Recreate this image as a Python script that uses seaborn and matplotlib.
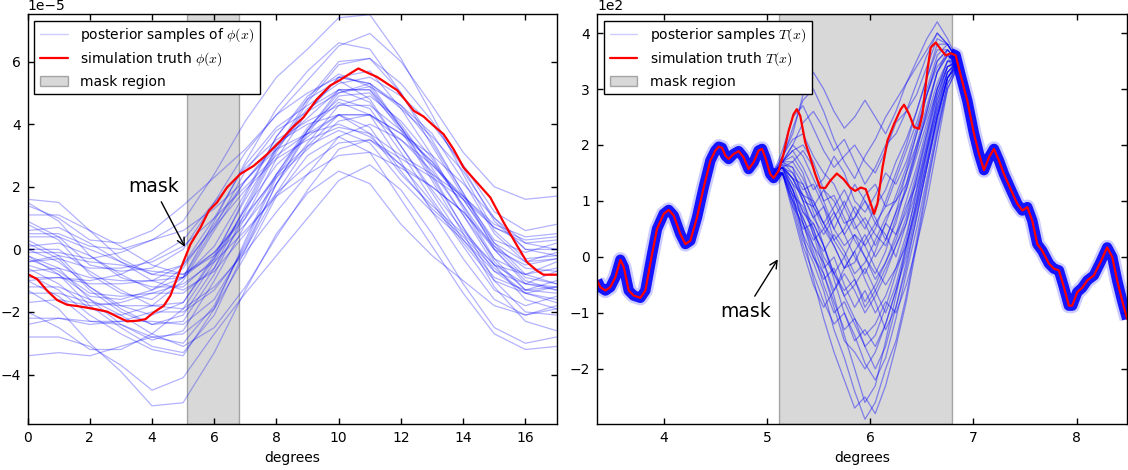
import numpy as np
import pandas as pd
import matplotlib
matplotlib.use("Agg")
import matplotlib.pyplot as plt
from matplotlib.lines import Line2D
from matplotlib.patches import Patch
import seaborn as sns

# ---------------- left panel: potential phi(x), in units of 1e-5 ----------------
phi_scale = 1e-5
phi_truth_deg = [0.0, 0.31, 0.63, 0.95, 1.27, 1.59, 2.13, 2.56, 2.88, 3.20, 3.52, 3.79,
                 4.06, 4.38, 4.59, 4.81, 5.02, 5.24, 5.56, 5.83, 6.09, 6.41, 6.84, 7.27,
                 7.70, 8.13, 8.50, 8.87, 9.30, 9.72, 10.04, 10.37, 10.63, 10.91, 11.23,
                 11.55, 11.87, 12.14, 12.41, 12.73, 13.05, 13.37, 13.69, 14.01, 14.44,
                 14.87, 15.30, 15.73, 16.05, 16.37, 16.58, 17.0]
phi_truth = [-0.79, -0.95, -1.32, -1.62, -1.77, -1.81, -1.90, -1.99, -2.15, -2.30, -2.28,
             -2.23, -2.01, -1.80, -1.48, -0.90, -0.37, 0.17, 0.70, 1.24, 1.50, 1.98, 2.41,
             2.67, 3.04, 3.47, 3.88, 4.22, 4.80, 5.23, 5.41, 5.62, 5.78, 5.65, 5.51, 5.30,
             5.09, 4.77, 4.43, 4.24, 3.95, 3.68, 3.20, 2.62, 2.14, 1.66, 0.86, 0.12, -0.41,
             -0.68, -0.81, -0.81]

phi_sample_deg = [0, 1, 2, 3, 4, 5, 6, 7, 8, 9, 10, 11, 12, 13, 14, 15, 16, 17]
phi_samples = [
    [1.4, 1.0, 0.3, 0.2, 0.6, 1.4, 2.3, 3.2, 4.3, 5.4, 6.5, 6.9, 6.0, 4.6, 3.1, 2.0, 1.6, 1.7],
    [-2.8, -2.8, -3.1, -3.7, -4.5, -4.1, -2.7, -1.4, -0.2, 1.0, 2.2, 2.7, 1.9, 0.5, -1.1, -2.5, -3.0, -2.8],
    [0.1, 0.2, -0.2, -0.8, -1.3, -0.9, 0.7, 2.5, 3.8, 4.4, 5.0, 5.2, 4.6, 3.7, 2.2, 0.5, -0.4, -0.3],
    [-1.0, -1.5, -2.3, -2.3, -2.0, -2.0, -1.3, 0.0, 1.8, 3.3, 4.3, 3.9, 2.5, 1.3, 0.4, -0.6, -1.4, -1.7],
    [0.8, 0.3, -0.8, -1.4, -1.6, -0.9, 0.9, 2.8, 4.5, 5.7, 6.6, 6.4, 5.0, 3.3, 1.7, 0.3, -0.1, 0.2],
    [-1.7, -1.6, -1.8, -1.7, -1.4, -1.1, -0.4, 0.6, 1.7, 2.4, 3.0, 3.1, 2.6, 2.0, 1.2, 0.0, -1.0, -1.3],
    [-0.4, -0.3, -0.6, -0.6, -0.4, 0.1, 1.0, 2.0, 3.0, 3.7, 4.3, 4.3, 3.7, 3.0, 2.1, 1.0, 0.2, 0.0],
    [-0.2, -0.8, -1.8, -2.5, -3.1, -3.3, -2.1, 0.0, 2.1, 3.7, 4.9, 5.0, 3.9, 2.4, 0.7, -1.0, -2.0, -2.1],
    [1.6, 1.5, 0.6, -0.3, -0.8, -0.5, 1.0, 2.7, 3.9, 4.6, 5.3, 5.5, 4.9, 4.0, 2.7, 1.2, 0.6, 0.8],
    [-3.4, -3.3, -3.4, -3.1, -2.8, -2.7, -1.9, -0.2, 1.7, 3.0, 3.6, 3.1, 1.6, 0.1, -1.4, -2.7, -3.2, -3.1],
    [0.5, 0.5, 0.1, 0.0, 0.3, 0.9, 2.4, 4.1, 5.5, 6.4, 7.4, 7.5, 6.1, 4.3, 2.4, 0.6, -0.3, -0.2],
    [-1.3, -1.9, -3.0, -3.9, -5.0, -4.9, -3.3, -1.3, 0.5, 1.8, 2.5, 2.1, 0.8, -0.2, -1.0, -1.8, -2.1, -1.8],
    [0.0, -0.4, -1.2, -1.8, -2.1, -1.7, -0.2, 1.6, 3.2, 4.4, 5.5, 5.7, 4.5, 3.0, 1.3, -0.4, -1.3, -1.2],
    [-0.7, -0.6, -0.9, -1.0, -1.0, -0.9, -0.1, 1.1, 2.3, 3.2, 4.1, 4.3, 3.7, 2.8, 1.6, 0.1, -0.9, -1.1],
    [1.1, 1.1, 0.6, 0.1, -0.5, -0.8, -0.2, 0.8, 2.1, 3.4, 4.6, 4.9, 4.1, 2.9, 1.4, 0.0, -0.5, -0.3],
    [-2.2, -2.2, -2.4, -2.3, -2.3, -2.4, -1.6, 0.1, 2.1, 3.8, 5.1, 5.1, 3.8, 2.2, 0.5, -1.2, -2.3, -2.6],
    [0.3, -0.2, -1.2, -1.9, -2.4, -2.3, -0.8, 1.2, 3.1, 4.7, 5.9, 6.1, 5.3, 4.1, 2.6, 0.9, 0.0, 0.0],
    [-0.6, -1.1, -1.9, -2.1, -1.8, -1.0, 0.6, 2.2, 3.4, 4.0, 4.3, 3.7, 2.4, 1.4, 0.5, -0.5, -1.1, -1.2],
    [0.6, 0.7, 0.2, -0.4, -1.0, -1.3, -0.7, 0.5, 1.8, 2.7, 3.4, 3.5, 2.9, 2.3, 1.6, 0.7, 0.2, 0.3],
    [-2.0, -2.5, -3.2, -3.2, -2.7, -1.9, -0.4, 1.3, 2.7, 3.6, 4.3, 4.3, 3.5, 2.5, 1.1, -0.5, -1.6, -1.9],
    [-0.1, -0.1, -0.3, -0.1, 0.3, 0.6, 1.3, 2.2, 3.3, 4.2, 5.1, 5.1, 4.0, 2.6, 1.1, -0.3, -0.8, -0.6],
    [-1.2, -1.2, -1.6, -2.1, -2.7, -3.1, -2.5, -1.2, 0.4, 1.9, 3.2, 3.5, 2.7, 1.5, 0.1, -1.3, -1.8, -1.5],
    [-0.3, -0.7, -1.4, -1.5, -1.4, -1.4, -0.6, 1.0, 2.9, 4.4, 5.5, 5.3, 3.9, 2.3, 0.7, -0.7, -1.1, -0.7],
    [-0.9, -0.9, -1.1, -1.1, -1.0, -0.5, 0.7, 1.9, 2.9, 3.5, 3.9, 3.7, 3.0, 2.4, 1.7, 0.8, 0.4, 0.5],
    [0.4, 0.4, 0.0, -0.4, -0.8, -0.9, 0.1, 1.8, 3.6, 4.9, 5.6, 5.2, 3.9, 2.7, 1.7, 0.7, 0.3, 0.4],
    [-0.8, -1.3, -2.1, -2.7, -3.2, -3.4, -1.9, 0.3, 2.4, 3.9, 4.8, 4.5, 3.1, 1.6, 0.2, -1.0, -1.4, -1.2],
    [0.9, 0.4, -0.5, -0.7, -0.6, 0.0, 1.5, 3.1, 4.3, 5.0, 5.5, 5.3, 4.5, 3.6, 2.5, 1.0, 0.0, -0.2],
    [-1.4, -1.4, -1.7, -1.8, -1.8, -1.9, -1.2, -0.1, 1.2, 2.4, 3.6, 4.0, 3.5, 2.7, 1.6, 0.2, -0.8, -1.1],
    [-0.4, -0.2, -0.4, -0.5, -0.7, -0.8, -0.1, 1.0, 2.4, 3.8, 5.0, 5.3, 4.6, 3.4, 1.8, 0.0, -1.1, -1.3],
    [0.2, -0.3, -1.3, -2.0, -2.4, -2.1, -0.6, 1.4, 3.3, 4.5, 5.1, 4.7, 3.3, 1.9, 0.6, -0.5, -0.8, -0.4],
    [-0.5, -0.8, -1.5, -1.6, -1.3, -0.6, 0.8, 2.2, 3.2, 3.7, 4.0, 3.6, 2.7, 2.0, 1.2, 0.1, -0.6, -0.7],
    [1.5, 0.9, -0.2, -0.9, -1.2, -1.2, -0.3, 1.3, 3.2, 4.8, 6.0, 6.1, 5.0, 3.5, 1.8, 0.2, -0.4, -0.1],
    [-2.4, -2.2, -2.3, -2.4, -2.8, -3.0, -1.8, 0.2, 2.3, 3.8, 4.7, 4.3, 2.8, 1.2, -0.3, -1.6, -2.1, -1.9],
    [0.0, 0.0, -0.7, -1.3, -1.8, -1.7, -0.3, 1.7, 3.6, 4.8, 5.4, 4.8, 3.3, 1.8, 0.3, -0.9, -1.3, -1.0],
    [-1.0, -0.9, -1.0, -0.8, -0.3, 0.3, 1.5, 2.6, 3.5, 4.1, 4.6, 4.6, 3.8, 2.8, 1.4, -0.3, -1.3, -1.4],
    [-0.2, -0.6, -1.6, -2.4, -2.9, -2.6, -1.0, 0.8, 2.4, 3.3, 3.8, 3.4, 2.2, 1.2, 0.3, -0.7, -1.4, -1.6],
]

# ---------------- right panel: temperature T(x), in uK ----------------
T_truth_deg = [3.354, 3.386, 3.435, 3.483, 3.532, 3.580, 3.613, 3.661, 3.709, 3.774, 3.822,
               3.887, 3.935, 4.000, 4.048, 4.097, 4.161, 4.210, 4.258, 4.323, 4.387, 4.452,
               4.500, 4.533, 4.565, 4.597, 4.629, 4.678, 4.726, 4.774, 4.823, 4.871, 4.919,
               4.952, 4.984, 5.032, 5.065, 5.113, 5.161, 5.210, 5.258, 5.290, 5.323, 5.371,
               5.419, 5.468, 5.516, 5.565, 5.613, 5.677, 5.742, 5.806, 5.855, 5.910, 5.958,
               6.006, 6.039, 6.071, 6.120, 6.168, 6.233, 6.297, 6.329, 6.378, 6.426, 6.474,
               6.507, 6.555, 6.587, 6.636, 6.684, 6.733, 6.781, 6.829, 6.878, 6.942, 7.007,
               7.055, 7.103, 7.152, 7.200, 7.249, 7.297, 7.362, 7.426, 7.475, 7.523, 7.571,
               7.620, 7.668, 7.733, 7.781, 7.829, 7.878, 7.926, 7.958, 8.007, 8.055, 8.104,
               8.168, 8.233, 8.297, 8.346, 8.394, 8.442, 8.491]
T_truth = [-42, -54, -60, -54, -36, -5, -18, -60, -69, -73, -60, 5, 50, 77, 84, 74, 41, 23,
           29, 71, 124, 172, 190, 197, 195, 181, 175, 184, 189, 178, 157, 169, 190, 193, 178,
           148, 141, 154, 184, 225, 255, 264, 252, 205, 178, 148, 124, 123, 136, 149, 139,
           124, 118, 124, 121, 95, 77, 95, 160, 208, 238, 264, 272, 255, 232, 229, 255, 333,
           374, 383, 371, 360, 364, 360, 324, 279, 220, 184, 155, 178, 193, 172, 148, 121, 95,
           83, 89, 65, 23, 11, -12, -21, -24, -54, -87, -87, -63, -55, -42, -33, -9, 17, 0,
           -42, -78, -111]

# posterior draws across the masked strip, where they depart from the truth
T_sample_deg = [5.05, 5.15, 5.25, 5.35, 5.45, 5.55, 5.65, 5.75, 5.85, 5.95,
                6.05, 6.15, 6.25, 6.35, 6.45, 6.55, 6.65, 6.75, 6.85]
T_samples = [
    [145, 190, 250, 270, 230, 190, 160, 180, 200, 170, 150, 190, 240, 260, 290, 340, 390, 380, 350],
    [145, 180, 220, 290, 330, 300, 260, 230, 250, 280, 250, 220, 260, 310, 350, 390, 420, 390, 350],
    [145, 170, 190, 160, 120, 140, 180, 150, 100, 80, 110, 150, 130, 170, 230, 290, 340, 360, 350],
    [145, 160, 140, 100, 90, 120, 100, 60, 70, 110, 130, 90, 100, 150, 200, 250, 310, 350, 340],
    [145, 160, 120, 70, 30, 50, 20, -20, 10, 40, 0, 30, 80, 120, 180, 240, 300, 340, 350],
    [145, 150, 100, 50, 60, 20, -30, -60, -40, -80, -50, -10, 30, 90, 130, 200, 270, 330, 350],
    [145, 170, 160, 130, 80, 20, -40, -100, -150, -130, -160, -120, -60, 0, 80, 160, 240, 320, 350],
    [145, 150, 90, 20, -30, -80, -120, -100, -140, -190, -220, -180, -110, -30, 50, 140, 230, 310, 340],
    [145, 160, 130, 80, 50, -10, -70, -140, -200, -260, -230, -150, -70, 20, 100, 180, 260, 330, 350],
    [145, 170, 180, 150, 90, 50, 80, 40, 0, -30, 10, 60, 40, 80, 150, 220, 290, 340, 350],
    [145, 150, 110, 90, 40, -20, 0, -50, -90, -60, -100, -70, -20, 20, 90, 170, 250, 320, 350],
    [145, 160, 170, 190, 160, 100, 50, 90, 130, 100, 60, 90, 140, 190, 240, 300, 360, 380, 350],
    [145, 150, 100, 30, -10, -60, -130, -180, -240, -290, -260, -200, -150, -70, 30, 130, 220, 300, 340],
    [145, 170, 150, 120, 130, 90, 30, 0, 40, 20, -20, -50, -20, 40, 110, 190, 280, 340, 350],
    [145, 180, 210, 220, 180, 150, 130, 90, 50, 70, 40, 20, 60, 130, 200, 270, 330, 360, 350],
    [145, 150, 120, 60, 0, -40, -20, -70, -110, -140, -120, -80, -100, -50, 20, 100, 200, 300, 340],
    [145, 160, 140, 100, 40, 10, 40, 10, -30, -10, 30, 70, 100, 130, 190, 260, 330, 360, 350],
    [145, 170, 200, 240, 260, 230, 190, 210, 170, 130, 160, 200, 220, 260, 310, 360, 400, 380, 350],
    [145, 150, 80, 10, -50, -90, -60, -30, -60, -100, -70, -30, 20, 60, 120, 190, 260, 320, 340],
    [145, 160, 130, 110, 70, 90, 50, 20, 40, 0, -40, -10, 40, 100, 160, 230, 300, 350, 350],
    [145, 160, 120, 60, 20, -30, -80, -130, -110, -160, -140, -90, -30, 30, 120, 200, 280, 330, 350],
    [145, 170, 170, 140, 100, 60, 90, 120, 80, 50, 90, 120, 170, 210, 260, 320, 370, 370, 350],
    [145, 160, 110, 40, -40, -110, -170, -220, -270, -250, -280, -230, -160, -80, 20, 120, 220, 310, 345],
    [145, 170, 190, 200, 170, 120, 80, 40, 70, 100, 70, 30, 80, 150, 220, 290, 350, 370, 350],
    [145, 155, 120, 80, 60, 20, -30, 0, -40, -90, -60, -20, 20, 70, 140, 210, 290, 340, 345],
    [145, 175, 230, 280, 300, 260, 210, 170, 140, 180, 210, 250, 280, 310, 340, 370, 400, 380, 350],
    [145, 150, 100, 70, 20, -10, -60, -20, 10, -40, -80, -130, -90, -20, 70, 160, 250, 320, 345],
    [145, 160, 150, 110, 70, 40, 70, 100, 60, 20, 50, 100, 150, 200, 260, 320, 380, 380, 350],
    [145, 150, 110, 40, 0, -30, -90, -150, -170, -200, -170, -120, -60, 10, 90, 170, 250, 320, 345],
    [145, 165, 140, 110, 100, 60, 20, -20, -10, 30, 60, 40, 0, 60, 140, 220, 300, 350, 350],
    [145, 170, 200, 180, 140, 100, 110, 70, 30, 0, -30, 10, 70, 120, 190, 260, 330, 370, 350],
    [145, 150, 90, 60, 10, -50, -100, -80, -120, -160, -200, -160, -90, -10, 70, 160, 250, 320, 345],
    [145, 160, 140, 130, 90, 60, 30, 50, 90, 60, 20, 60, 110, 160, 220, 290, 350, 370, 350],
    [145, 165, 160, 100, 50, 0, -30, -70, -50, -20, -60, -100, -50, 20, 100, 190, 270, 330, 345],
]

mask_lo, mask_hi = 5.12, 6.79

# ---------------- style ----------------
sns.set_theme(style="white")
plt.rcParams.update({
    "font.family": ["DejaVu Sans"],
    "font.size": 10,
    "mathtext.fontset": "cm",
    "axes.edgecolor": "black",
    "axes.linewidth": 1.0,
    "axes.labelsize": 10,
    "axes.labelcolor": "black",
    "text.color": "black",
    "xtick.color": "black",
    "ytick.color": "black",
    "xtick.labelsize": 10,
    "ytick.labelsize": 10,
    "xtick.direction": "in",
    "ytick.direction": "in",
    "xtick.top": True,
    "ytick.right": True,
    "xtick.bottom": True,
    "ytick.left": True,
    "xtick.major.size": 4,
    "ytick.major.size": 4,
    "xtick.major.width": 1,
    "ytick.major.width": 1,
    "xtick.major.pad": 5,
    "ytick.major.pad": 5,
    "legend.fancybox": False,
    "legend.edgecolor": "black",
    "legend.framealpha": 1,
    "legend.fontsize": 10,
})

fig = plt.figure(figsize=(11.28, 4.7), dpi=100)
ax1 = fig.add_axes([0.0244, 0.0972, 0.4690, 0.8730])
ax2 = fig.add_axes([0.5293, 0.0972, 0.4699, 0.8730])

sample_color = "blue"

# ---- left: phi(x) ----
ax1.axvspan(mask_lo, mask_hi, facecolor="gray", edgecolor="black", alpha=0.3, lw=1, zorder=0)
phi_df = pd.DataFrame(
    [(d, v * phi_scale, k) for k, s in enumerate(phi_samples) for d, v in zip(phi_sample_deg, s)],
    columns=["deg", "phi", "draw"])
sns.lineplot(data=phi_df, x="deg", y="phi", units="draw", estimator=None,
             color=sample_color, alpha=0.3, lw=0.9, ax=ax1, legend=False)
sns.lineplot(x=phi_truth_deg, y=np.array(phi_truth) * phi_scale, color="red", lw=1.6,
             ax=ax1, legend=False)
ax1.set_xlim(0, 17)
ax1.set_ylim(-5.59e-5, 7.52e-5)
ax1.set_xticks([0, 2, 4, 6, 8, 10, 12, 14, 16])
ax1.set_yticks(np.array([-4, -2, 0, 2, 4, 6]) * phi_scale)
ax1.ticklabel_format(axis="y", style="sci", scilimits=(0, 0))
ax1.set_xlabel("degrees")
ax1.set_ylabel("")
ax1.annotate("mask", xy=(5.1, 0.0), xytext=(4.04, 1.83e-5), ha="center", va="baseline",
             fontsize=13.5, arrowprops=dict(arrowstyle="->", color="black", lw=1))

# ---- right: T(x) ----
ax2.axvspan(mask_lo, mask_hi, facecolor="gray", edgecolor="black", alpha=0.3, lw=1, zorder=0)
truth_df = pd.DataFrame({"deg": T_truth_deg, "T": T_truth})
left_part = truth_df[truth_df["deg"] <= 5.12]
right_part = truth_df[truth_df["deg"] >= 6.78]
# posterior draws are tightly bundled around the truth outside the mask
for part in (left_part, right_part):
    sns.lineplot(data=part, x="deg", y="T", color=sample_color, alpha=0.2, lw=11,
                 ax=ax2, legend=False, solid_capstyle="butt")
    sns.lineplot(data=part, x="deg", y="T", color=sample_color, alpha=0.9, lw=7.5,
                 ax=ax2, legend=False, solid_capstyle="butt")
T_df = pd.DataFrame(
    [(d, v, k) for k, s in enumerate(T_samples) for d, v in zip(T_sample_deg, s)],
    columns=["deg", "T", "draw"])
sns.lineplot(data=T_df, x="deg", y="T", units="draw", estimator=None,
             color=sample_color, alpha=0.42, lw=0.9, ax=ax2, legend=False)
sns.lineplot(data=truth_df, x="deg", y="T", color="red", lw=1.6, ax=ax2, legend=False)
ax2.set_xlim(3.354, 8.49)
ax2.set_ylim(-299, 434)
ax2.set_xticks([4, 5, 6, 7, 8])
ax2.set_yticks([-200, -100, 0, 100, 200, 300, 400])
ax2.ticklabel_format(axis="y", style="sci", scilimits=(0, 0))
ax2.set_xlabel("degrees")
ax2.set_ylabel("")
ax2.annotate("mask", xy=(5.12, 0.0), xytext=(4.79, -107), ha="center", va="baseline",
             fontsize=13.5, arrowprops=dict(arrowstyle="->", color="black", lw=1))

# ---- legends ----
def add_legend(ax, name):
    handles = [Line2D([], [], color=sample_color, alpha=0.2, lw=1),
               Line2D([], [], color="red", lw=1.6),
               Patch(facecolor="gray", edgecolor="black", alpha=0.3)]
    labels = [f"posterior samples {name}", f"simulation truth {name.split()[-1]}", "mask region"]
    leg = ax.legend(handles, labels, loc="upper left", frameon=True, borderaxespad=0.5,
                    handlelength=2.0, handletextpad=0.9, labelspacing=0.45, borderpad=0.4)
    leg.get_frame().set_linewidth(1.0)

add_legend(ax1, r"of $\phi(x)$")
add_legend(ax2, r"$T(x)$")

for ax in (ax1, ax2):
    for sp in ax.spines.values():
        sp.set_color("black")
        sp.set_linewidth(1.0)

fig.savefig("out.png", dpi=100)
